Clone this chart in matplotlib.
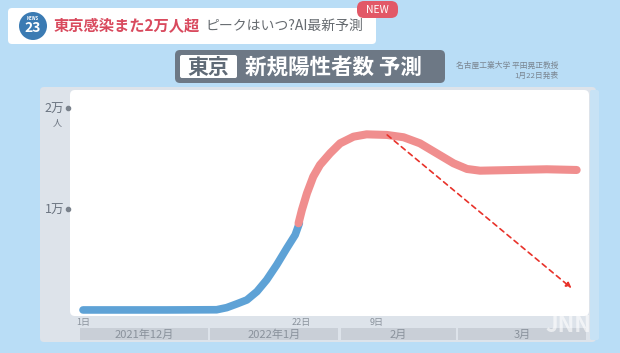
import matplotlib
matplotlib.use("Agg")
import matplotlib.pyplot as plt
from matplotlib.patches import FancyBboxPatch, Circle, Rectangle
from matplotlib.transforms import IdentityTransform, blended_transform_factory

plt.rcParams['font.family'] = ['Noto Sans CJK JP', 'DejaVu Sans']

# days counted from 2021-12-01, values = new cases in Tokyo
actual_day = [0, 10, 20, 31.8, 34.2, 36.6, 39, 41.4, 43.7, 46.1, 48.5, 50.5, 51.5]
actual_val = [0, 0, 0, 20, 230, 600, 990, 1820, 2970, 4460, 6110, 7430, 8600]

forecast_day = [51.3, 52.1, 53.3, 54.8, 56.4, 58.8, 61.2, 64.4, 67.5, 72.3, 76.3,
                80.2, 84.2, 88.2, 91.4, 94.5, 102.5, 110.4, 117.5]
forecast_val = [8580, 9900, 11550, 13200, 14360, 15510, 16500, 17160, 17390, 17330, 17100,
                16500, 15510, 14520, 13960, 13790, 13860, 13930, 13860]

arrow_from = (72.4, 17330)
arrow_to = (116.3, 2150)

day_ticks = [0, 52, 70]
day_labels = ['1日', '22日', '9日']
months = [('2021年12月', 0, 31), ('2022年1月', 31, 62), ('2月', 62, 90), ('3月', 90, 121)]
y_ticks = [10000, 20000]
y_labels = ['1万', '2万']

W, H = 620, 353
fig = plt.figure(figsize=(W / 100, H / 100), dpi=100)
fig.patch.set_facecolor('#b9ddf6')
px = IdentityTransform()


def box(x0, y0, x1, y1, color, r=4, z=0, ec='none'):
    p = FancyBboxPatch((x0 + r, H - y1 + r), x1 - x0 - 2 * r, y1 - y0 - 2 * r,
                       boxstyle='round,pad=%d' % r, transform=px, fc=color, ec=ec,
                       zorder=z)
    fig.patches.append(p)


# header
box(8, 8, 376, 44, 'white', r=4)
fig.patches.append(Circle((33, H - 26), 14, transform=px, fc='#3b7bb3', zorder=2))
fig.text(33 / W, 1 - 18 / H, 'NEWS', color='white', fontsize=3, ha='center', va='center',
         weight='bold')
fig.text(33 / W, 1 - 28 / H, '23', color='white', fontsize=10, ha='center', va='center',
         weight='bold')
fig.text(54 / W, 1 - 26 / H, '東京感染また2万人超', color='#d94a5e', fontsize=11,
         weight='bold', va='center')
fig.text(205 / W, 1 - 26 / H, 'ピークはいつ?AI最新予測', color='#666b70', fontsize=10,
         va='center')
box(357, 1, 398, 18, '#e25867', r=7, z=3)
fig.text(377 / W, 1 - 10 / H, 'NEW', color='white', fontsize=7.5, ha='center', va='center')

# panel
box(40, 87, 596, 342, '#dde3ea', r=4)
box(590, 90, 599, 340, '#c7e2f5', r=2)

# title
box(175, 50, 445, 83, '#6d7885', r=5, z=2)
box(180, 55, 237, 78, 'white', r=2, z=3)
fig.text(208.5 / W, 1 - 67 / H, '東京', color='#5f6a76', fontsize=15, weight='bold',
         ha='center', va='center', zorder=4)
fig.text(245 / W, 1 - 67 / H, '新規陽性者数 予測', color='white', fontsize=15.5,
         weight='bold', va='center', zorder=4)
fig.text(558 / W, 1 - 66 / H, '名古屋工業大学 平田晃正教授', color='#7a8590', fontsize=5.6,
         ha='right', va='center')
fig.text(558 / W, 1 - 75.5 / H, '1月22日発表', color='#7a8590', fontsize=5.6,
         ha='right', va='center')

# plot area
box(70, 90, 589, 316, 'white', r=5, z=1)
ax = fig.add_axes([70 / W, 1 - 315 / H, 518 / W, 225 / H])
ax.set_facecolor('none')
ax.set_zorder(2)
for s in ax.spines.values():
    s.set_visible(False)
ax.set_xlim(-3.1, 120.2)
ax.set_ylim(-500, 21780)

ax.plot(actual_day, actual_val, color='#5ea2d6', lw=5.5, solid_capstyle='round',
        solid_joinstyle='round', zorder=3)
ax.plot(forecast_day, forecast_val, color='#f08e8e', lw=5.8, solid_capstyle='round',
        solid_joinstyle='round', zorder=4)
ax.annotate('', xy=arrow_to, xytext=arrow_from,
            arrowprops=dict(arrowstyle='-|>', color='#e8322a', lw=1.2, ls=(0, (3, 2.5)),
                            mutation_scale=8, shrinkA=0, shrinkB=0), zorder=5)

ax.set_xticks([])
ax.set_yticks(y_ticks)
ax.set_yticklabels(y_labels, color='#6b7480', fontsize=9)
ax.tick_params(axis='y', length=0, pad=4)
yt = blended_transform_factory(ax.transAxes, ax.transData)
ax.plot([-0.003] * len(y_ticks), y_ticks, 'o', ms=3, color='#7a828c', transform=yt,
        clip_on=False)
ax.text(-0.016, y_ticks[-1] - 1400, '人', transform=yt, color='#6b7480', fontsize=6.5,
        ha='right', va='center')

xt = blended_transform_factory(ax.transData, ax.transAxes)
for d, lab in zip(day_ticks, day_labels):
    ax.text(d, -0.032, lab, transform=xt, color='#8a929c', fontsize=6.5, ha='center',
            va='center')
for name, a, b in months:
    ax.add_patch(Rectangle((a - 0.7, -0.113), b - a - 0.6, 0.055, transform=xt,
                           fc='#c9cfd7', ec='none', clip_on=False))
    ax.text((a + b) / 2 - 1, -0.087, name, transform=xt, color='#8a929c', fontsize=8,
            ha='center', va='center')

fig.text(568 / W, 1 - 326 / H, 'JNN', color='white', alpha=0.6, fontsize=16,
         style='italic', weight='bold', ha='center', va='center')

fig.savefig('out.png', dpi=100, facecolor=fig.get_facecolor())
